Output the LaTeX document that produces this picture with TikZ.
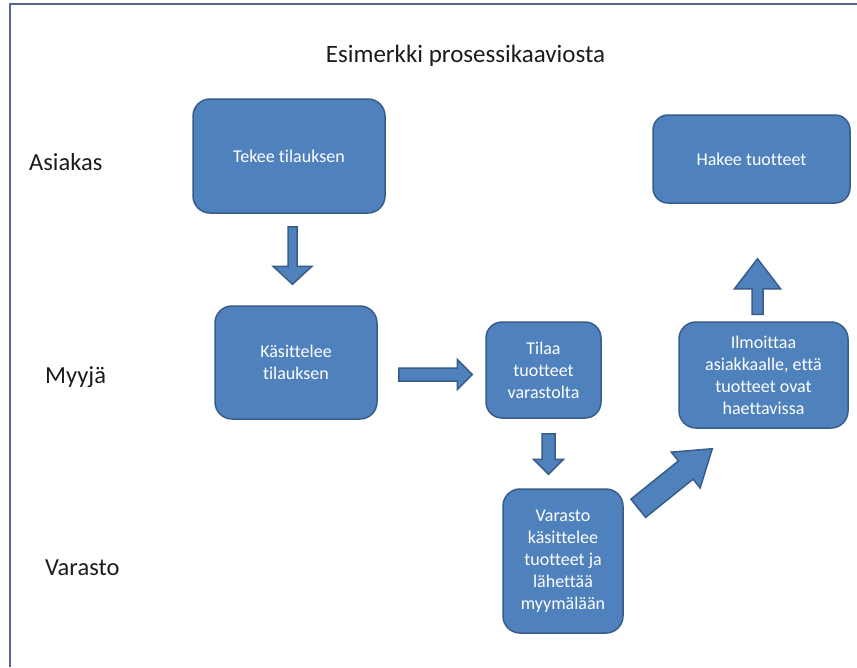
\documentclass[tikz,border=0pt]{standalone}
\usepackage{fontspec}
\setmainfont[Ligatures={NoCommon}]{Carlito}
\usetikzlibrary{calc}

\definecolor{boxfill}{HTML}{4F81BD}
\definecolor{boxline}{HTML}{385D8A}
\definecolor{framecol}{RGB}{85,100,145}
\definecolor{labelcol}{HTML}{1C1C1C}

% block arrow: tail, tip, shaft half width, head half width, head length
\newcommand{\blockarrow}[5]{%
  \coordinate (hb) at ($(#2)!#5!(#1)$);
  \draw[arrowbox] ($(#1)!#3!90:(#2)$) -- ($(hb)!#3!90:(#2)$) -- ($(hb)!#4!90:(#2)$) -- (#2)
    -- ($(hb)!#4!-90:(#2)$) -- ($(hb)!#3!-90:(#2)$) -- ($(#1)!#3!-90:(#2)$) -- cycle;}

\begin{document}
\begin{tikzpicture}[x=1pt,y=-1pt,
    box/.style={draw=boxline,fill=boxfill,line width=1.5pt,rounded corners=17pt,
      text=white,align=center,inner sep=2pt,font=\fontsize{18}{22}\selectfont},
    arrowbox/.style={draw=boxline,fill=boxfill,line width=1.5pt,line join=miter},
    lane/.style={anchor=west,text=labelcol,inner sep=0pt,font=\fontsize{24.5}{28}\selectfont}]
  \useasboundingbox (0,0) rectangle (857,667);
  \fill[white] (0,0) rectangle (857,667);
  \draw[framecol,line width=2.5pt] (10,667) -- (10,4) -- (857,4);

  \node[text=labelcol,font=\fontsize{25}{30}\selectfont] (title) at (465.5,56) {Esimerkki prosessikaaviosta};

  % kaistat
  \node[lane] (asiakas) at (29,162) {Asiakas};
  \node[lane] (myyja) at (45,377) {Myyjä};
  \node[lane] (varastol) at (45,568) {Varasto};

  % vaiheet
  \node[box,minimum width=192pt,minimum height=114pt] (tekee) at (289,156) {Tekee tilauksen};
  \node[box,minimum width=162pt,minimum height=113pt] (kasittelee) at (296,362.5) {Käsittelee\\tilauksen};
  \node[box,minimum width=115pt,minimum height=96pt,rounded corners=16pt] (tilaa) at (543.5,370) {Tilaa\\tuotteet\\varastolta};
  \node[box,minimum width=120pt,minimum height=144pt] (varasto) at (563,561) {Varasto\\käsittelee\\tuotteet ja\\lähettää\\myymälään};
  \node[box,minimum width=169pt,minimum height=106pt] (ilmoittaa) at (763.5,375) {Ilmoittaa\\asiakkaalle, että\\tuotteet ovat\\haettavissa};
  \node[box,minimum width=197pt,minimum height=88pt,rounded corners=15pt] (hakee) at (751.5,159) {Hakee tuotteet};

  % nuolet
  \coordinate (a1s) at ($(tekee.south)+(3.5,13)$);
  \coordinate (a1e) at ($(kasittelee.north)+(-3.5,-21)$);
  \coordinate (a2s) at ($(kasittelee.east)+(21,12)$);
  \coordinate (a2e) at ($(tilaa.west)+(-13,4.5)$);
  \coordinate (a3s) at ($(tilaa.south)+(5,15)$);
  \coordinate (a3e) at ($(varasto.north)+(-14.5,-14)$);
  \coordinate (a4s) at ($(varasto.north east)+(14.5,20)$);
  \coordinate (a4e) at ($(ilmoittaa.south west)+(34,20)$);
  \coordinate (a5s) at ($(ilmoittaa.north)+(-6,-7)$);
  \coordinate (a5e) at ($(hakee.south)+(6,55)$);

  \blockarrow{a1s}{a1e}{4.5pt}{19.5pt}{18pt}
  \blockarrow{a2s}{a2e}{6.5pt}{15pt}{15pt}
  \blockarrow{a3s}{a3e}{6.5pt}{15pt}{15pt}
  \blockarrow{a4s}{a4e}{11.7pt}{23pt}{34pt}
  \blockarrow{a5s}{a5e}{5.5pt}{23pt}{30pt}
\end{tikzpicture}
\end{document}
